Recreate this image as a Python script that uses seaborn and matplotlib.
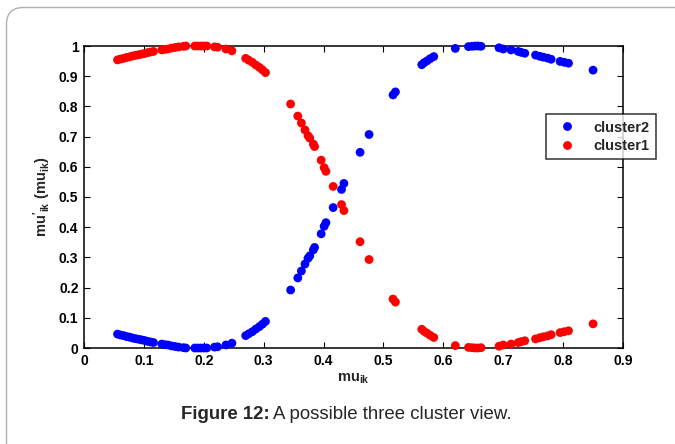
import matplotlib
matplotlib.use("Agg")
import matplotlib.pyplot as plt
import seaborn as sns
import pandas as pd
from matplotlib.patches import FancyBboxPatch

# ---- data ----
mu_ik = [0.056, 0.061, 0.066, 0.071, 0.076, 0.081, 0.086, 0.091, 0.096, 0.101,
         0.106, 0.111, 0.116, 0.130, 0.135, 0.140, 0.146, 0.152, 0.158, 0.166,
         0.170, 0.185, 0.190, 0.195, 0.200, 0.205, 0.218, 0.223, 0.237, 0.247,
         0.270, 0.275, 0.281, 0.287, 0.293, 0.298, 0.303, 0.345, 0.357, 0.363,
         0.369, 0.374, 0.377, 0.383, 0.385, 0.396, 0.401, 0.404, 0.416, 0.430,
         0.434, 0.461, 0.476, 0.516, 0.520, 0.564, 0.568, 0.573, 0.578, 0.584,
         0.620, 0.642, 0.648, 0.653, 0.658, 0.663, 0.693, 0.700, 0.713, 0.725,
         0.730, 0.736, 0.754, 0.761, 0.767, 0.774, 0.780, 0.795, 0.802, 0.809,
         0.850]
cluster2 = [0.046, 0.043, 0.041, 0.038, 0.036, 0.033, 0.031, 0.029, 0.027, 0.025,
            0.022, 0.020, 0.018, 0.013, 0.011, 0.010, 0.007, 0.005, 0.003, 0.001,
            0.000, 0.000, 0.000, 0.000, 0.000, 0.000, 0.003, 0.004, 0.010, 0.016,
            0.041, 0.047, 0.054, 0.063, 0.071, 0.079, 0.088, 0.192, 0.232, 0.255,
            0.278, 0.297, 0.305, 0.325, 0.333, 0.378, 0.403, 0.415, 0.465, 0.525,
            0.545, 0.648, 0.707, 0.838, 0.848, 0.938, 0.945, 0.951, 0.958, 0.965,
            0.992, 0.998, 0.999, 1.000, 1.000, 0.999, 0.994, 0.990, 0.987, 0.982,
            0.979, 0.976, 0.970, 0.966, 0.963, 0.960, 0.956, 0.949, 0.946, 0.943,
            0.920]
cluster1 = [0.954, 0.957, 0.959, 0.962, 0.964, 0.967, 0.969, 0.971, 0.973, 0.975,
            0.978, 0.980, 0.982, 0.987, 0.989, 0.990, 0.993, 0.995, 0.997, 0.999,
            1.000, 1.000, 1.000, 1.000, 1.000, 1.000, 0.997, 0.996, 0.990, 0.984,
            0.959, 0.953, 0.946, 0.937, 0.929, 0.921, 0.912, 0.808, 0.768, 0.745,
            0.722, 0.703, 0.695, 0.675, 0.667, 0.622, 0.597, 0.585, 0.535, 0.475,
            0.455, 0.352, 0.293, 0.162, 0.152, 0.062, 0.055, 0.049, 0.042, 0.035,
            0.008, 0.002, 0.001, 0.000, 0.000, 0.001, 0.006, 0.010, 0.013, 0.018,
            0.021, 0.024, 0.030, 0.034, 0.037, 0.040, 0.044, 0.051, 0.054, 0.057,
            0.080]
series_names = ["cluster2", "cluster1"]
x_ticks = [0, 0.1, 0.2, 0.3, 0.4, 0.5, 0.6, 0.7, 0.8, 0.9]
x_tick_labels = ["0", "0.1", "0.2", "0.3", "0.4", "0.5", "0.6", "0.7", "0.8", "0.9"]
y_ticks = [0, 0.1, 0.2, 0.3, 0.4, 0.5, 0.6, 0.7, 0.8, 0.9, 1]
y_tick_labels = ["0", "0.1", "0.2", "0.3", "0.4", "0.5", "0.6", "0.7", "0.8", "0.9", "1"]

df = pd.concat([
    pd.DataFrame({"x": mu_ik, "y": cluster2, "cluster": series_names[0]}),
    pd.DataFrame({"x": mu_ik, "y": cluster1, "cluster": series_names[1]}),
], ignore_index=True)

sns.set_style("white")
plt.rcParams["font.family"] = ["Liberation Sans", "DejaVu Sans"]
plt.rcParams["mathtext.fontset"] = "custom"
plt.rcParams["mathtext.rm"] = "Liberation Sans:bold"
plt.rcParams["mathtext.it"] = "Liberation Sans:bold"
plt.rcParams["mathtext.bf"] = "Liberation Sans:bold"

fig = plt.figure(figsize=(6.75, 4.44), dpi=100)
fig.patch.set_facecolor("white")

# outer rounded frame
frame = FancyBboxPatch((6.5 / 675, -0.2), 1.2, 1.2 - 7.5 / 444,
                       boxstyle="round,pad=0,rounding_size=0.025",
                       transform=fig.transFigure, fill=False,
                       edgecolor="#b0b0b0", linewidth=1.0, mutation_aspect=675 / 444)
fig.patches.append(frame)

ax = fig.add_axes([84 / 675, (444 - 348) / 444, (623 - 84) / 675, (348 - 46) / 444])
sns.scatterplot(data=df, x="x", y="y", hue="cluster", hue_order=series_names,
                palette={"cluster2": "#0000ff", "cluster1": "#ff0000"},
                s=40, edgecolor="none", linewidth=0, ax=ax, legend=True,
                clip_on=False, zorder=3)

ax.set_xlim(0, 0.9)
ax.set_ylim(0, 1)
ax.set_xticks(x_ticks)
ax.set_xticklabels(x_tick_labels)
ax.set_yticks(y_ticks)
ax.set_yticklabels(y_tick_labels)
for lab in ax.get_xticklabels() + ax.get_yticklabels():
    lab.set_fontweight("bold")
    lab.set_fontsize(10)
ax.tick_params(direction="in", length=4.5, width=0.8, top=True, right=True,
               bottom=True, left=True, pad=4, colors="black")
for sp in ax.spines.values():
    sp.set_visible(True)
    sp.set_color("black")
    sp.set_linewidth(1.1)
    sp.set_zorder(2)

ax.set_xlabel(r"$\mathrm{mu_{ik}}$", fontsize=10.5, labelpad=3)
ax.set_ylabel(r"$\mathrm{mu'_{ik}\ (mu_{ik})}$", fontsize=10.5, labelpad=4)

leg = ax.legend(loc="upper left", bbox_to_anchor=(0.857, 0.775), frameon=True,
                fancybox=False, edgecolor="black", fontsize=10.5,
                borderpad=0.45, labelspacing=0.3, handletextpad=0.8,
                handlelength=2.0, borderaxespad=0, markerscale=1.0)
leg.get_frame().set_linewidth(1.1)
leg.set_zorder(5)
for t in leg.get_texts():
    t.set_fontweight("bold")

# caption
fig.text(0.400, (444 - 414) / 444, "Figure 12:", ha="right", va="center",
         fontsize=13.4, fontweight="bold")
fig.text(0.404, (444 - 414) / 444, "A possible three cluster view.", ha="left",
         va="center", fontsize=13.4)

fig.savefig("out.png", dpi=100)
